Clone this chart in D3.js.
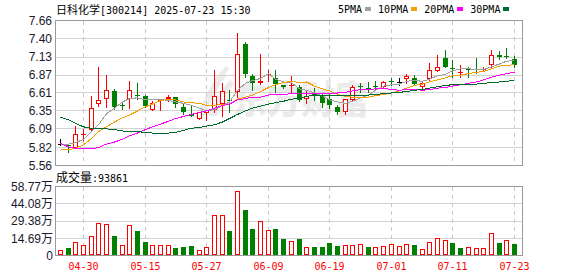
<!DOCTYPE html>
<html>
<head>
<meta charset="utf-8">
<script src="https://cdn.jsdelivr.net/npm/d3@7"></script>
<style>
  body { margin: 0; background: #fff; }
  svg { display: block; }
</style>
</head>
<body>
<svg id="chart"></svg>
<script>
// 日K数据 (价格: 元, 成交量: 万)
const dates = ["04-25","04-28","04-29","04-30","05-06","05-07","05-08","05-09","05-12","05-13",
  "05-14","05-15","05-16","05-19","05-20","05-21","05-22","05-23","05-26","05-27",
  "05-28","05-29","05-30","06-03","06-04","06-05","06-06","06-09","06-10","06-11",
  "06-12","06-13","06-16","06-17","06-18","06-19","06-20","06-23","06-24","06-25",
  "06-26","06-27","06-30","07-01","07-02","07-03","07-04","07-07","07-08","07-09",
  "07-10","07-11","07-14","07-15","07-16","07-17","07-18","07-21","07-22","07-23"];
const open  = [5.87,5.86,5.82,6.00,6.07,6.45,6.53,6.64,6.44,6.53, 6.575,6.57,6.37,6.50,6.52,6.55,6.40,6.30,6.24,6.32,
  6.36,6.45,6.51,6.62,7.32,6.85,6.75,6.88,6.82,6.72, 6.71,6.70,6.53,6.60,6.56,6.52,6.40,6.33,6.51,6.71,
  6.68,6.705,6.70,6.79,6.775,6.81,6.82,6.70,6.81,6.93, 7.11,6.97,6.915,6.955,6.955,6.955,7.02,7.16,7.145,7.10];
const high  = [5.95,5.87,6.13,6.09,6.56,6.99,6.87,6.67,6.50,6.78, 6.76,6.58,6.50,6.53,6.58,6.55,6.45,6.42,6.33,6.37,
  6.95,6.76,6.65,7.48,7.35,6.89,7.17,6.95,6.95,6.73, 6.85,6.72,6.65,6.68,6.60,6.60,6.44,6.53,6.73,6.75,
  6.77,6.78,6.78,6.82,6.82,6.89,6.87,6.78,7.05,7.16, 7.24,7.09,7.01,6.98,7.12,6.99,7.24,7.22,7.26,7.15];
const low   = [5.85,5.75,5.81,5.93,6.06,6.42,6.40,6.38,6.38,6.39, 6.53,6.41,6.37,6.37,6.49,6.40,6.31,6.27,6.23,6.22,
  6.34,6.27,6.34,6.55,6.84,6.66,6.74,6.79,6.62,6.68, 6.63,6.49,6.47,6.51,6.40,6.39,6.31,6.30,6.49,6.62,
  6.63,6.65,6.68,6.73,6.73,6.76,6.72,6.67,6.80,6.93, 6.98,6.84,6.84,6.84,6.90,6.94,6.99,7.10,7.11,6.99];
const close = [5.87,5.84,6.01,6.01,6.39,6.51,6.66,6.40,6.43,6.655, 6.565,6.42,6.46,6.51,6.55,6.45,6.34,6.28,6.33,6.36,
  6.56,6.64,6.50,7.17,6.89,6.75,6.78,6.885,6.74,6.69, 6.72,6.51,6.57,6.56,6.47,6.44,6.34,6.52,6.69,6.70,
  6.675,6.70,6.775,6.775,6.775,6.85,6.74,6.76,6.95,6.98, 6.99,6.965,6.92,6.95,6.95,6.96,7.16,7.13,7.13,7.02];
const volume = [4.9,6.0,11.8,9.2,16.9,28.1,27.2,16.3,8.6,26.4, 20.6,11.2,8.6,8.6,8.6,6.0,6.9,7.7,4.9,6.9,
  34.1,34.1,20.6,54.8,38.7,22.4,29.0,22.1,22.4,13.8, 12.0,13.8,6.9,6.9,6.9,10.3,7.7,8.6,8.6,9.5,
  6.9,6.9,7.7,9.5,7.7,9.5,8.6,5.7,11.8,14.6, 12.9,10.3,6.0,6.9,6.0,6.0,18.9,10.3,12.9,9.3861];
const ma5  = [5.87,5.87,5.89,5.94,6.05,6.15,6.31,6.39,6.48,6.53, 6.54,6.51,6.51,6.52,6.50,6.48,6.46,6.43,6.39,6.35,
  6.37,6.43,6.48,6.65,6.75,6.79,6.82,6.89,6.81,6.77, 6.76,6.67,6.65,6.61,6.57,6.51,6.48,6.46,6.49,6.54,
  6.58,6.65,6.71,6.73,6.74,6.78,6.79,6.78,6.81,6.86, 6.88,6.93,6.96,6.96,6.95,6.95,6.99,7.03,7.07,7.08];
const ma10 = [5.79,5.79,5.81,5.86,5.95,6.05,6.12,6.19,6.25,6.29, 6.35,6.41,6.45,6.50,6.52,6.51,6.48,6.47,6.46,6.43,
  6.43,6.45,6.45,6.52,6.55,6.58,6.63,6.69,6.73,6.76, 6.78,6.76,6.77,6.71,6.67,6.64,6.59,6.56,6.55,6.55,
  6.55,6.57,6.59,6.61,6.64,6.68,6.72,6.74,6.77,6.80, 6.83,6.86,6.87,6.89,6.91,6.92,6.96,7.00,7.01,7.02];
const ma20 = [5.88,5.83,5.81,5.80,5.80,5.82,5.87,5.90,5.94,5.99, 6.03,6.08,6.12,6.16,6.20,6.24,6.27,6.30,6.33,6.35,
  6.39,6.43,6.45,6.51,6.53,6.55,6.55,6.58,6.59,6.59, 6.60,6.61,6.61,6.61,6.61,6.61,6.61,6.62,6.64,6.66,
  6.66,6.67,6.68,6.66,6.65,6.66,6.66,6.65,6.66,6.68, 6.69,6.71,6.73,6.75,6.77,6.80,6.84,6.87,6.89,6.91];
const ma30 = [6.26,6.22,6.17,6.12,6.10,6.09,6.09,6.08,6.06,6.05, 6.05,6.04,6.03,6.03,6.03,6.04,6.07,6.10,6.11,6.13,
  6.15,6.19,6.24,6.30,6.35,6.39,6.42,6.45,6.47,6.49, 6.52,6.54,6.56,6.58,6.58,6.58,6.57,6.57,6.58,6.58,
  6.58,6.59,6.60,6.61,6.62,6.63,6.65,6.66,6.68,6.70, 6.72,6.73,6.74,6.74,6.74,6.75,6.76,6.77,6.78,6.79];

const priceTicks = [5.56, 5.82, 6.09, 6.35, 6.61, 6.87, 7.13, 7.40, 7.66];
const volTicks = [0, 14.69, 29.38, 44.08, 58.77];
const dateTicks = ["04-30","05-15","05-27","06-09","06-19","07-01","07-11","07-23"];
const maNames = ["5PMA", "10PMA", "20PMA", "30PMA"];
const stockName = "日科化学", stockCode = "[300214] 2025-07-23 15:30";
const lastVolume = 93861;

const width = 578, height = 276;
const svg = d3.select("#chart").attr("width", width).attr("height", height)
  .attr("shape-rendering", "crispEdges");

const box = {left: 55.5, right: 522.5, top: 20.5, bottom: 165.5};
const vbox = {top: 186.5, bottom: 255.5};

const x = d3.scalePoint().domain(dates).range([60, 514]);
const y = d3.scaleLinear().domain([5.56, 7.66]).range([box.bottom, box.top]);
const yv = d3.scaleLinear().domain([0, 58.77]).range([vbox.bottom, vbox.top]);
const col = X => Math.round(x(X));
const row = v => Math.floor(v) + 0.5;

const upColor = "#ff0000", downColor = "#008000";
const maColors = ["#a0a0a0", "#f5a000", "#ff00ff", "#006a2c"];
const numFont = "'Liberation Sans', Arial, sans-serif";
const monoFont = "'DejaVu Sans Mono', monospace";
const cjkFont = "'Noto Sans CJK SC', sans-serif";

// 水印
const wm = svg.append("g").attr("fill", "#ebebeb").attr("shape-rendering", "auto");
wm.append("path")
  .attr("d", "M198,116 C203,98 211,84 222,72 L227,75 C217,88 210,101 206,116 Z " +
             "M209,116 C214,101 221,90 230,80 L234,84 C226,93 220,104 217,116 Z " +
             "M214,80 C218,74 222,70 226,66 L229,69 C225,73 221,78 218,84 Z");
wm.append("text")
  .attr("x", 233).attr("y", 113)
  .attr("font-family", cjkFont).attr("font-size", 38).attr("font-weight", 900)
  .attr("textLength", 136).attr("lengthAdjust", "spacingAndGlyphs")
  .text("东方财富");

// 网格
const grid = svg.append("g");
grid.selectAll(".hgrid").data(priceTicks.slice(1, -1)).enter().append("line")
  .attr("x1", box.left).attr("x2", box.right)
  .attr("y1", d => row(y(d))).attr("y2", d => row(y(d)))
  .attr("stroke", "#d3d3d3");
grid.selectAll(".vgrid").data(volTicks.slice(1, -1)).enter().append("line")
  .attr("x1", box.left).attr("x2", box.right)
  .attr("y1", d => row(yv(d))).attr("y2", d => row(yv(d)))
  .attr("stroke", "#d3d3d3");
[[box.top, box.bottom], [vbox.top, vbox.bottom]].forEach(([t, b]) => {
  grid.selectAll(null).data(dateTicks).enter().append("line")
    .attr("x1", d => col(d) + 0.5).attr("x2", d => col(d) + 0.5)
    .attr("y1", t).attr("y2", b)
    .attr("stroke", "#c8c8c8").attr("stroke-dasharray", "4,4");
});

// K线
const kg = svg.append("g");
dates.forEach((d, i) => {
  const X = col(d);
  const o = open[i], c = close[i];
  const color = c > o ? upColor : c < o ? downColor : "#000";
  kg.append("line")
    .attr("x1", X + 0.5).attr("x2", X + 0.5)
    .attr("y1", Math.round(y(high[i]))).attr("y2", Math.round(y(low[i])) + 1)
    .attr("stroke", color);
  const top = Math.round(y(Math.max(o, c))), bot = Math.round(y(Math.min(o, c)));
  if (bot - top < 2) {
    kg.append("line")
      .attr("x1", X - 2).attr("x2", X + 3)
      .attr("y1", top + 0.5).attr("y2", top + 0.5)
      .attr("stroke", color);
  } else if (c > o) {
    kg.append("rect")
      .attr("x", X - 1.5).attr("y", top + 0.5)
      .attr("width", 4).attr("height", bot - top - 1)
      .attr("fill", "#fff").attr("stroke", upColor);
  } else {
    kg.append("rect")
      .attr("x", X - 2).attr("y", top)
      .attr("width", 5).attr("height", bot - top)
      .attr("fill", downColor);
  }
});

// 均线
[ma5, ma10, ma20, ma30].forEach((ma, k) => {
  svg.append("path")
    .datum(ma)
    .attr("fill", "none")
    .attr("stroke", maColors[k])
    .attr("d", d3.line().x((v, i) => col(dates[i]) + 0.5).y(v => y(v)));
});

// 成交量
const vg = svg.append("g");
dates.forEach((d, i) => {
  const X = col(d);
  const top = Math.round(yv(volume[i]));
  const rising = i === 0 || close[i] >= close[i - 1];
  if (rising) {
    vg.append("rect")
      .attr("x", X - 1.5).attr("y", top + 0.5)
      .attr("width", 4).attr("height", 255 - top - 1)
      .attr("fill", "#fff").attr("stroke", upColor);
  } else {
    vg.append("rect")
      .attr("x", X - 2).attr("y", top)
      .attr("width", 5).attr("height", 255 - top)
      .attr("fill", downColor);
  }
});

// 边框
[[box.top, box.bottom], [vbox.top, vbox.bottom]].forEach(([t, b]) => {
  svg.append("rect")
    .attr("x", box.left).attr("y", t)
    .attr("width", box.right - box.left).attr("height", b - t)
    .attr("fill", "none").attr("stroke", "#9a9a9a");
});

// 文字
const tg = svg.append("g").attr("shape-rendering", "auto");
tg.selectAll(".py").data(priceTicks).enter().append("text")
  .attr("x", 52).attr("y", d => y(d))
  .attr("dy", "0.36em").attr("text-anchor", "end")
  .attr("font-family", numFont).attr("font-size", 12).attr("fill", "#1a1a2e")
  .text(d => d.toFixed(2));

const vt = tg.selectAll(".vy").data(volTicks).enter().append("text")
  .attr("x", 53).attr("y", d => yv(d))
  .attr("dy", "0.36em").attr("text-anchor", "end")
  .attr("font-family", numFont).attr("font-size", 12).attr("fill", "#1a1a2e");
vt.append("tspan").text(d => d === 0 ? "0" : d.toFixed(2));
vt.filter(d => d > 0).append("tspan").attr("font-family", cjkFont).text("万");

tg.selectAll(".xl").data(dateTicks).enter().append("text")
  .attr("x", d => col(d) + 0.5).attr("y", 270)
  .attr("text-anchor", "middle")
  .attr("font-family", monoFont).attr("font-size", 10).attr("fill", "#ff0000")
  .text(d => d);

const title = tg.append("text").attr("x", 56).attr("y", 14).attr("fill", "#000");
title.append("tspan").attr("font-family", cjkFont).attr("font-size", 11).text(stockName);
title.append("tspan").attr("font-family", monoFont).attr("font-size", 10).text(stockCode);

const vtitle = tg.append("text").attr("x", 56).attr("y", 182).attr("fill", "#000");
vtitle.append("tspan").attr("font-family", cjkFont).attr("font-size", 12).text("成交量");
vtitle.append("tspan").attr("font-family", monoFont).attr("font-size", 10).text(":" + lastVolume);

let lx = 338;
maNames.forEach((name, k) => {
  const t = tg.append("text").attr("x", lx).attr("y", 13)
    .attr("font-family", monoFont).attr("font-size", 10).attr("fill", "#000")
    .text(name);
  const w = t.node().getComputedTextLength();
  svg.append("rect")
    .attr("x", lx + w + 3).attr("y", 7)
    .attr("width", 6).attr("height", 4)
    .attr("fill", maColors[k]);
  lx += w + 3 + 6 + 7;
});
</script>
</body>
</html>
